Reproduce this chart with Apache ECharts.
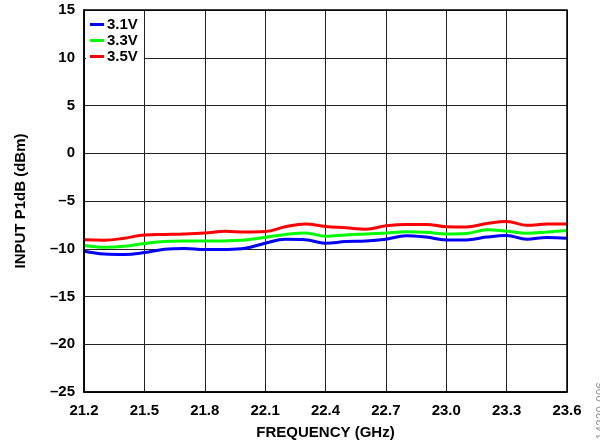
<!DOCTYPE html>
<html>
<head>
<meta charset="utf-8">
<script src="https://cdn.jsdelivr.net/npm/echarts@6/dist/echarts.min.js"></script>
<style>
  html, body { margin: 0; padding: 0; background: #fff; }
  #chart { width: 600px; height: 445px; }
</style>
</head>
<body>
<div id="chart"></div>
<script>
// Frequency sweep (GHz), 0.1 GHz steps
const freqGHz = [21.2, 21.3, 21.4, 21.5, 21.6, 21.7, 21.8, 21.9, 22.0, 22.1, 22.2, 22.3,
                 22.4, 22.5, 22.6, 22.7, 22.8, 22.9, 23.0, 23.1, 23.2, 23.3, 23.4, 23.5, 23.6];

// Input P1dB (dBm) per supply voltage
const p1dB_3v1 = [-10.26, -10.55, -10.6, -10.4, -10.05, -9.97, -10.08, -10.07, -9.95, -9.42, -9.0, -9.05,
                  -9.42, -9.25, -9.2, -9.0, -8.63, -8.78, -9.08, -9.08, -8.78, -8.62, -9.0, -8.82, -8.9];
const p1dB_3v3 = [-9.66, -9.85, -9.75, -9.45, -9.25, -9.2, -9.2, -9.18, -9.08, -8.8, -8.5, -8.34,
                  -8.7, -8.55, -8.45, -8.35, -8.22, -8.28, -8.45, -8.4, -8.02, -8.15, -8.38, -8.25, -8.1];
const p1dB_3v5 = [-9.07, -9.1, -8.9, -8.55, -8.5, -8.45, -8.35, -8.18, -8.25, -8.2, -7.7, -7.4,
                  -7.67, -7.8, -7.95, -7.6, -7.45, -7.45, -7.7, -7.72, -7.35, -7.15, -7.55, -7.42, -7.4];

const seriesNames = ['3.1V', '3.3V', '3.5V'];
const seriesColors = ['#0000ff', '#00ff00', '#ff0000'];

const fontFamily = '"Liberation Sans", Arial, Helvetica, sans-serif';
const dash = v => String(v).replace('-', '\u2013');

const chart = echarts.init(document.getElementById('chart'), null, { renderer: 'canvas' });

const mkSeries = (name, data, color) => ({
  name: name,
  type: 'line',
  data: data,
  smooth: 0.4,
  symbol: 'none',
  lineStyle: { color: color, width: 3 },
  itemStyle: { color: color },
  z: 3
});

chart.setOption({
  animation: false,
  backgroundColor: '#ffffff',
  grid: { left: 84, right: 33, top: 10, bottom: 53, show: true, borderColor: '#000', borderWidth: 1.5, z: 4 },
  legend: {
    orient: 'vertical',
    left: 86,
    top: 14,
    backgroundColor: '#ffffff',
    padding: [3, 6, 4, 4],
    itemWidth: 14,
    itemHeight: 3,
    itemGap: 1,
    icon: 'rect',
    textStyle: { fontFamily: fontFamily, fontWeight: 'bold', fontSize: 15, lineHeight: 15, color: '#000', padding: [0, 0, 0, -2] },
    data: seriesNames,
    z: 10
  },
  xAxis: {
    type: 'category',
    data: freqGHz.map(f => f.toFixed(1)),
    boundaryGap: false,
    name: 'FREQUENCY (GHz)',
    nameLocation: 'middle',
    nameGap: 33,
    nameTextStyle: { fontFamily: fontFamily, fontWeight: 'bold', fontSize: 15, color: '#000' },
    axisLine: { show: true, onZero: false, lineStyle: { color: '#000', width: 1.5 } },
    axisTick: { show: false },
    axisLabel: { interval: 2, margin: 11, fontFamily: fontFamily, fontWeight: 'bold', fontSize: 15, color: '#000' },
    splitLine: { show: true, interval: 2, lineStyle: { color: '#222', width: 1 } }
  },
  yAxis: {
    type: 'value',
    min: -25,
    max: 15,
    interval: 5,
    name: 'INPUT P1dB (dBm)',
    nameLocation: 'middle',
    nameGap: 56,
    nameTextStyle: { fontFamily: fontFamily, fontWeight: 'bold', fontSize: 15, color: '#000' },
    axisLine: { show: true, onZero: false, lineStyle: { color: '#000', width: 1.5 } },
    axisTick: { show: false },
    axisLabel: { margin: 9, fontFamily: fontFamily, fontWeight: 'bold', fontSize: 15, color: '#000', formatter: v => dash(v) },
    splitLine: { show: true, lineStyle: { color: '#222', width: 1 } }
  },
  graphic: [{
    type: 'text',
    left: 596,
    top: 382,
    rotation: Math.PI / 2,
    style: { text: '14330-006', fontFamily: fontFamily, fontSize: 12, fill: '#999' }
  }],
  series: [
    mkSeries(seriesNames[0], p1dB_3v1, seriesColors[0]),
    mkSeries(seriesNames[1], p1dB_3v3, seriesColors[1]),
    mkSeries(seriesNames[2], p1dB_3v5, seriesColors[2])
  ]
});
</script>
</body>
</html>
